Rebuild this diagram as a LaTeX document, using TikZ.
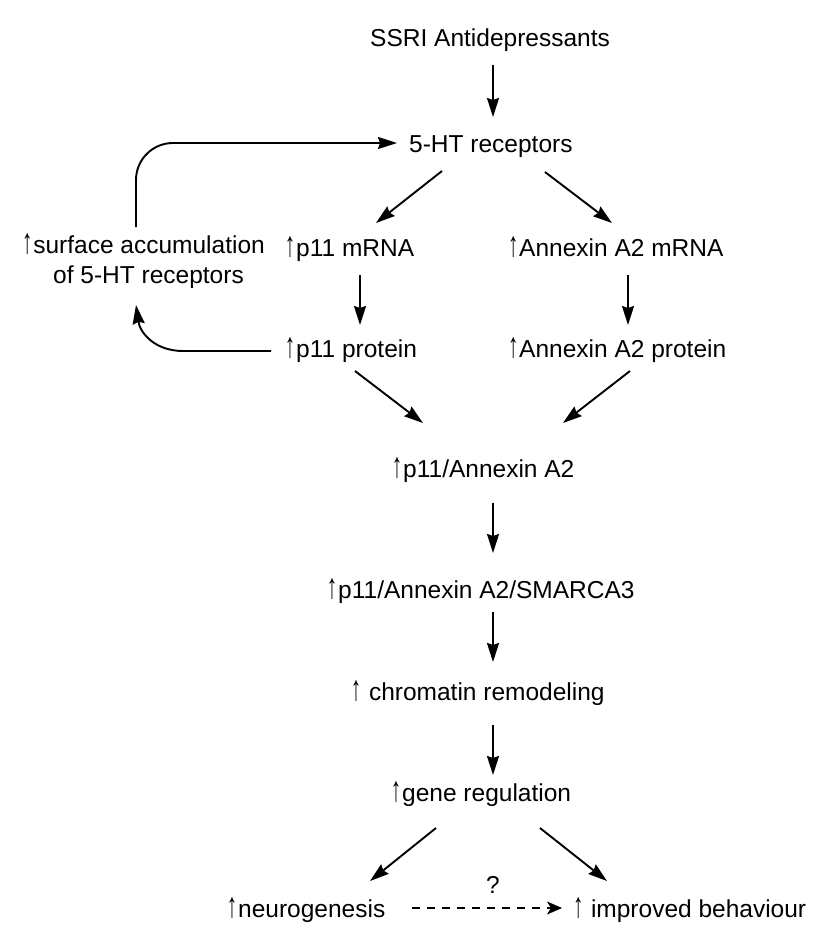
\documentclass[tikz,border=0pt]{standalone}
\usepackage{fontspec}
\usepackage{graphicx}
\setmainfont{Liberation Sans}
\usetikzlibrary{arrows.meta,calc}
\newcommand\upa{\makebox[12pt][c]{\scalebox{0.85}[1.45]{↑}}}
\tikzset{
  txt/.style={inner sep=0pt, font=\fontsize{24.5}{29.4}\selectfont},
  arr/.style={line width=1.9pt, -{Stealth[length=19pt,width=12pt,inset=2pt]}},
  darr/.style={line width=1.4pt, dash pattern=on 8pt off 7pt, -{Stealth[length=15pt,width=13pt,inset=4pt]}}
}
\begin{document}
\begin{tikzpicture}[x=1pt,y=-1pt]
\useasboundingbox (0,0) rectangle (832,934);
\coordinate (col) at (493,0);
% nodes
\node[txt, anchor=base west] (ssri) at (370,47) {SSRI Antidepressants};
\node[txt, anchor=base west] (ht) at (409,152) {5-HT receptors};
\node[txt, anchor=base west] (p11m) at (284,256) {\upa p11 mRNA};
\node[txt, anchor=base west] (anxm) at (507,256) {\upa Annexin A2 mRNA};
\node[txt, anchor=base east] (surf1) at (265,253) {\upa surface accumulation};
\node[txt, anchor=base east] (surf2) at (244,283) {of 5-HT receptors};
\node[txt, anchor=base west] (p11p) at (284,357) {\upa p11 protein};
\node[txt, anchor=base west] (anxp) at (507,357) {\upa Annexin A2 protein};
\node[txt, anchor=base west] (pa) at (391,477) {\upa p11/Annexin A2};
\node[txt, anchor=base west] (smarca) at (326,598) {\upa p11/Annexin A2/SMARCA3};
\node[txt, anchor=base west] (chrom) at (350,700) {\upa{} chromatin remodeling};
\node[txt, anchor=base west] (gene) at (390,801) {\upa gene regulation};
\node[txt, anchor=base west] (neuro) at (226,917) {\upa neurogenesis};
\node[txt, anchor=base west] (impr) at (572,917) {\upa{} improved behaviour};
\node[txt, anchor=base] (q) at (493,893) {?};
% connectors
\draw[arr] ($(ssri.base -| col)+(0,18)$) -- ($(ht.base -| col)+(0,-35)$);
\draw[arr, rounded corners=37pt] ($(surf1.base east)+(-129,-26)$) |- ($(ht.base west)+(-12,-9)$);
\draw[arr] ($(ht.base west)+(33,19)$) -- ($(p11m.base west)+(92,-33)$);
\draw[arr] ($(ht.base west)+(136,20)$) -- ($(anxm.base west)+(105,-33)$);
\draw[arr] ($(p11m.base west)+(76,19)$) -- ($(p11p.base west)+(76,-32)$);
\draw[arr] ($(anxm.base west)+(121,19)$) -- ($(anxp.base west)+(121,-32)$);
\draw[arr] ($(p11p.base west)+(-13,-6)$) -- ++(-88,0) .. controls +(-28,0) and +(4,28) .. ($(surf2.base east)+(-108,22)$);
\draw[arr] ($(p11p.base west)+(71,14)$) -- ($(pa.base west)+(32,-54)$);
\draw[arr] ($(anxp.base west)+(123,14)$) -- ($(pa.base west)+(172,-54)$);
\draw[arr] ($(pa.base -| col)+(0,26)$) -- ($(smarca.base -| col)+(0,-45)$);
\draw[arr] ($(smarca.base -| col)+(0,14)$) -- ($(chrom.base -| col)+(0,-38)$);
\draw[arr] ($(chrom.base -| col)+(0,25)$) -- ($(gene.base -| col)+(0,-26)$);
\draw[arr] ($(gene.base west)+(46,27)$) -- ($(neuro.base west)+(144,-36)$);
\draw[arr] ($(gene.base west)+(150,27)$) -- ($(impr.base west)+(35,-36)$);
\draw[darr] ($(neuro.base west)+(186,-9)$) -- ($(impr.base west)+(-10,-9)$);
\end{tikzpicture}
\end{document}
